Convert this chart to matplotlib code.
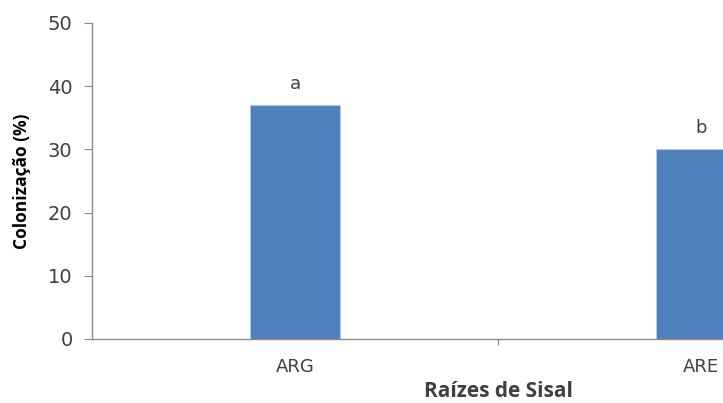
import matplotlib
matplotlib.use("Agg")
import matplotlib.pyplot as plt

# data
categories = ["ARG", "ARE"]
colonizacao = [37, 30]
letras = ["a", "b"]

TXT = "#404040"
AXC = "#8c8c8c"
BAR = "#4f81bd"

fig = plt.figure(figsize=(7.23, 4.03), dpi=100)
# the original is cropped on the right, so the axes run past the figure edge
ax = fig.add_axes([92 / 723, 64 / 403, 812 / 723, 316 / 403])

xs = list(range(len(categories)))
bars = ax.bar(xs, colonizacao, width=0.222, color=BAR, edgecolor="#b9cde5", linewidth=0.6)
for b, lt in zip(bars, letras):
    ax.text(b.get_x() + b.get_width() / 2, b.get_height() + 2.0, lt,
            ha="center", va="bottom", fontsize=13, color=TXT, family="DejaVu Sans")

ax.set_xlim(-0.5, 1.5)
ax.set_ylim(0, 50)
ax.set_yticks([0, 10, 20, 30, 40, 50])
ax.set_xticks(xs)
ax.set_xticklabels(categories)
ax.set_xticks([0.5], minor=True)

ax.tick_params(axis="y", direction="out", length=6, width=0.8, color=AXC,
               labelsize=14, labelcolor=TXT, pad=8)
ax.tick_params(axis="x", which="major", length=0, labelsize=13, labelcolor=TXT, pad=14)
ax.tick_params(axis="x", which="minor", direction="out", length=4, width=0.8, color=AXC)

for s in ("top", "right"):
    ax.spines[s].set_visible(False)
for s in ("left", "bottom"):
    ax.spines[s].set_color(AXC)
    ax.spines[s].set_linewidth(1.0)

ax.set_ylabel("Colonização (%)", fontsize=12.5, fontweight="bold", color="black",
              family="Open Sans", fontstretch="condensed", labelpad=12)
ax.set_xlabel("Raízes de Sisal", fontsize=15, fontweight="bold", color=TXT,
              family="Open Sans", labelpad=3)

fig.savefig("out.png", dpi=100)
